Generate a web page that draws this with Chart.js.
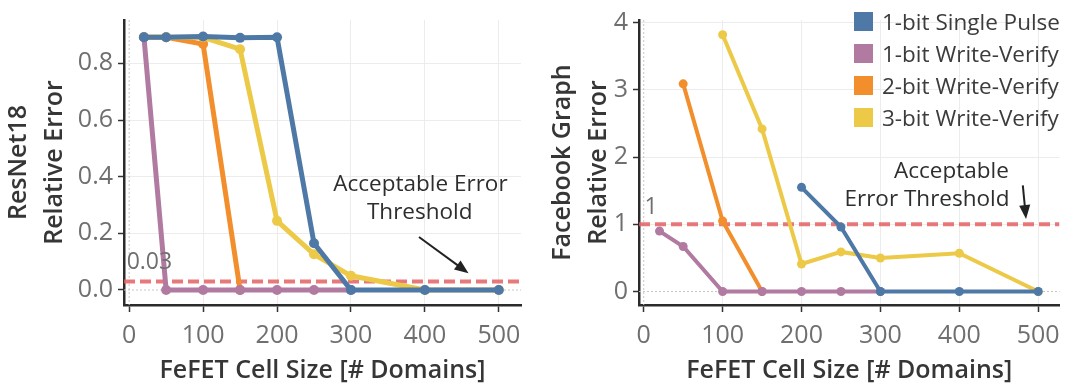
<!DOCTYPE html>
<html lang="en">
<head>
    <meta charset="UTF-8">
    <title>FeFET Cell Size vs Relative Error</title>
    <style>
        body {
            margin: 0;
            background-color: #fff;
            font-family: 'Open Sans', sans-serif;
        }
        .panel {
            position: absolute;
            top: 0;
            height: 389px;
        }
        #legend {
            position: absolute;
            left: 314px;
            top: 5px;
        }
        .legend-row {
            display: flex;
            align-items: center;
            height: 32px;
        }
        .legend-box {
            width: 19px;
            height: 19px;
            margin-right: 9px;
        }
        .legend-text {
            font-size: 22.5px;
            color: #3c3c3c;
            white-space: nowrap;
        }
    </style>
</head>
<body>
    <div class="panel" style="left:0;width:535px">
        <canvas id="resnetChart" width="535" height="389"></canvas>
    </div>
    <div class="panel" style="left:540px;width:529px">
        <canvas id="fbChart" width="529" height="389"></canvas>
        <div id="legend"></div>
    </div>

    <script src="https://cdn.jsdelivr.net/npm/chart.js"></script>
    <script>
        // x values shared by both panels
        const cellSizes = [20, 50, 100, 150, 200, 250, 300, 400, 500];
        const seriesNames = ['1-bit Single Pulse', '1-bit Write-Verify', '2-bit Write-Verify', '3-bit Write-Verify'];
        const seriesColors = ['#4e79a7', '#b07aa1', '#f28e2b', '#edc948'];

        // ResNet18 relative error (null = no point)
        const resnetSinglePulse = [0.892, 0.892, 0.895, 0.89, 0.892, 0.165, 0.0, 0.0, 0.0];
        const resnetWV1 = [0.892, 0.0, 0.0, 0.0, 0.0, 0.0, 0.0, null, null];
        const resnetWV2 = [0.892, 0.892, 0.868, 0.0, null, null, null, null, null];
        const resnetWV3 = [0.892, 0.892, 0.892, 0.85, 0.244, 0.126, 0.05, 0.0, 0.0];

        // Facebook Graph relative error
        const fbSinglePulse = [null, null, null, null, 1.55, 0.96, 0.0, 0.0, 0.0];
        const fbWV1 = [0.9, 0.67, 0.0, 0.0, 0.0, 0.0, 0.0, null, null];
        const fbWV2 = [null, 3.09, 1.05, 0.0, null, null, null, null, null];
        const fbWV3 = [null, null, 3.82, 2.42, 0.41, 0.59, 0.5, 0.57, 0.0];

        const xTicks = [0, 100, 200, 300, 400, 500];
        const resnetTicks = [0, 0.2, 0.4, 0.6, 0.8];
        const fbTicks = [0, 1, 2, 3, 4];
        const resnetThreshold = 0.03;
        const fbThreshold = 1;

        const tickFont = { family: 'Open Sans', size: 25 };
        const titleFont = { family: 'Open Sans', size: 25, weight: '600' };

        function toPoints(values) {
            const pts = [];
            values.forEach((v, i) => {
                if (v !== null) pts.push({ x: cellSizes[i], y: v });
            });
            return pts;
        }

        // dotted zero lines under the data, notes and arrow on top
        const overlayPlugin = {
            id: 'overlay',
            beforeDatasetsDraw(chart) {
                const { ctx, chartArea: a, scales: { x, y } } = chart;
                const x0 = x.getPixelForValue(0);
                const y0 = y.getPixelForValue(0);
                ctx.save();
                ctx.strokeStyle = '#c6c6c6';
                ctx.lineWidth = 1;
                ctx.setLineDash([2, 2]);
                ctx.beginPath();
                ctx.moveTo(a.left, y0);
                ctx.lineTo(a.right, y0);
                ctx.moveTo(x0, a.top);
                ctx.lineTo(x0, a.bottom);
                ctx.stroke();
                ctx.restore();
            },
            afterDatasetsDraw(chart, args, opts) {
                const { ctx, scales: { x, y } } = chart;
                ctx.save();
                ctx.textBaseline = 'middle';
                (opts.notes || []).forEach(n => {
                    ctx.font = n.size + 'px "Open Sans"';
                    ctx.fillStyle = n.color;
                    ctx.textAlign = n.align;
                    ctx.fillText(n.text, x.getPixelForValue(n.x), y.getPixelForValue(n.y));
                });
                if (opts.arrow) {
                    const fx = x.getPixelForValue(opts.arrow.from[0]);
                    const fy = y.getPixelForValue(opts.arrow.from[1]);
                    const tx = x.getPixelForValue(opts.arrow.to[0]);
                    const ty = y.getPixelForValue(opts.arrow.to[1]);
                    const ang = Math.atan2(ty - fy, tx - fx);
                    const head = 15;
                    ctx.strokeStyle = '#222';
                    ctx.fillStyle = '#222';
                    ctx.lineWidth = 2;
                    ctx.beginPath();
                    ctx.moveTo(fx, fy);
                    ctx.lineTo(tx - Math.cos(ang) * head * 0.8, ty - Math.sin(ang) * head * 0.8);
                    ctx.stroke();
                    ctx.beginPath();
                    ctx.moveTo(tx, ty);
                    ctx.lineTo(tx - head * Math.cos(ang - 0.38), ty - head * Math.sin(ang - 0.38));
                    ctx.lineTo(tx - head * Math.cos(ang + 0.38), ty - head * Math.sin(ang + 0.38));
                    ctx.closePath();
                    ctx.fill();
                }
                ctx.restore();
            }
        };

        function makeChart(canvasId, cfg) {
            const series = cfg.series.map((vals, i) => ({
                label: seriesNames[i],
                data: toPoints(vals),
                borderColor: seriesColors[i],
                backgroundColor: seriesColors[i],
                borderWidth: cfg.lineWidth,
                pointRadius: cfg.pointRadius,
                pointHoverRadius: cfg.pointRadius,
                pointBorderWidth: 0,
                order: [1, 2, 4, 3][i]
            }));
            series.push({
                label: 'threshold',
                data: [{ x: cfg.xRange[0], y: cfg.threshold }, { x: cfg.xRange[1], y: cfg.threshold }],
                borderColor: 'rgba(228, 98, 100, 0.85)',
                borderWidth: 4,
                borderDash: [11, 5],
                pointRadius: 0,
                order: 10
            });

            return new Chart(document.getElementById(canvasId), {
                type: 'line',
                data: { datasets: series },
                plugins: [overlayPlugin],
                options: {
                    responsive: false,
                    animation: false,
                    layout: {
                        autoPadding: false,
                        padding: { left: 0, right: cfg.padRight, top: 7, bottom: 0 }
                    },
                    plugins: {
                        legend: { display: false },
                        tooltip: { enabled: false },
                        overlay: { notes: cfg.notes, arrow: cfg.arrow }
                    },
                    scales: {
                        x: {
                            type: 'linear',
                            min: cfg.xRange[0],
                            max: cfg.xRange[1],
                            afterBuildTicks: s => { s.ticks = xTicks.map(v => ({ value: v })); },
                            afterFit: s => { s.height = 84; },
                            ticks: { font: tickFont, color: '#6f6f6f', padding: 9 },
                            grid: {
                                color: c => c.tick && c.tick.value === 0 ? 'rgba(0,0,0,0)' : '#ececec',
                                tickColor: '#333',
                                tickLength: 7,
                                tickWidth: 1.5
                            },
                            border: { color: '#2b2b2b', width: 2.5 },
                            title: {
                                display: true,
                                text: 'FeFET Cell Size [# Domains]',
                                font: titleFont,
                                color: '#363636',
                                padding: { top: 0, bottom: 3 }
                            }
                        },
                        y: {
                            type: 'linear',
                            min: cfg.yRange[0],
                            max: cfg.yRange[1],
                            afterBuildTicks: s => { s.ticks = cfg.yTicks.map(v => ({ value: v })); },
                            afterFit: s => { s.width = cfg.yWidth; },
                            ticks: {
                                font: tickFont,
                                color: '#6f6f6f',
                                padding: 5,
                                callback: v => v.toFixed(cfg.decimals)
                            },
                            grid: {
                                color: c => c.tick && c.tick.value === 0 ? 'rgba(0,0,0,0)' : '#ececec',
                                tickColor: '#333',
                                tickLength: 6,
                                tickWidth: 1.5
                            },
                            border: { color: '#2b2b2b', width: 2.5 },
                            title: {
                                display: true,
                                text: cfg.yTitle,
                                font: Object.assign({}, titleFont, { lineHeight: 1.44 }),
                                color: '#363636',
                                padding: { top: cfg.titlePad, bottom: 0 }
                            }
                        }
                    }
                }
            });
        }

        makeChart('resnetChart', {
            series: [resnetSinglePulse, resnetWV1, resnetWV2, resnetWV3],
            threshold: resnetThreshold,
            xRange: [-7, 530],
            yRange: [-0.053, 0.953],
            yTicks: resnetTicks,
            decimals: 1,
            yTitle: ['ResNet18', 'Relative Error'],
            yWidth: 124,
            padRight: 14,
            titlePad: 1,
            lineWidth: 5,
            pointRadius: 5,
            notes: [
                { text: 'Acceptable Error', x: 394, y: 0.372, size: 22.5, color: '#2e2e2e', align: 'center' },
                { text: 'Threshold', x: 393, y: 0.274, size: 22.5, color: '#2e2e2e', align: 'center' },
                { text: '0.03', x: -3.4, y: 0.0955, size: 23, color: '#6f6f6f', align: 'left' }
            ],
            arrow: { from: [392, 0.187], to: [459, 0.059] }
        });

        makeChart('fbChart', {
            series: [fbSinglePulse, fbWV1, fbWV2, fbWV3],
            threshold: fbThreshold,
            xRange: [-6, 527],
            yRange: [-0.2, 4.04],
            yTicks: fbTicks,
            decimals: 0,
            yTitle: ['Facebook Graph', 'Relative Error'],
            yWidth: 99,
            padRight: 7,
            titlePad: 5,
            lineWidth: 4,
            pointRadius: 4.5,
            notes: [
                { text: 'Acceptable', x: 390, y: 1.79, size: 22.5, color: '#2e2e2e', align: 'center' },
                { text: 'Error Threshold', x: 359, y: 1.366, size: 22.5, color: '#2e2e2e', align: 'center' },
                { text: '1', x: 1, y: 1.25, size: 23, color: '#6f6f6f', align: 'left' }
            ],
            arrow: { from: [480.5, 1.58], to: [484.6, 1.08] }
        });

        // html legend
        const legendDiv = document.getElementById('legend');
        seriesNames.forEach((name, i) => {
            const row = document.createElement('div');
            row.className = 'legend-row';
            const box = document.createElement('div');
            box.className = 'legend-box';
            box.style.backgroundColor = seriesColors[i];
            const label = document.createElement('span');
            label.className = 'legend-text';
            label.textContent = name;
            row.appendChild(box);
            row.appendChild(label);
            legendDiv.appendChild(row);
        });
    </script>
</body>
</html>
